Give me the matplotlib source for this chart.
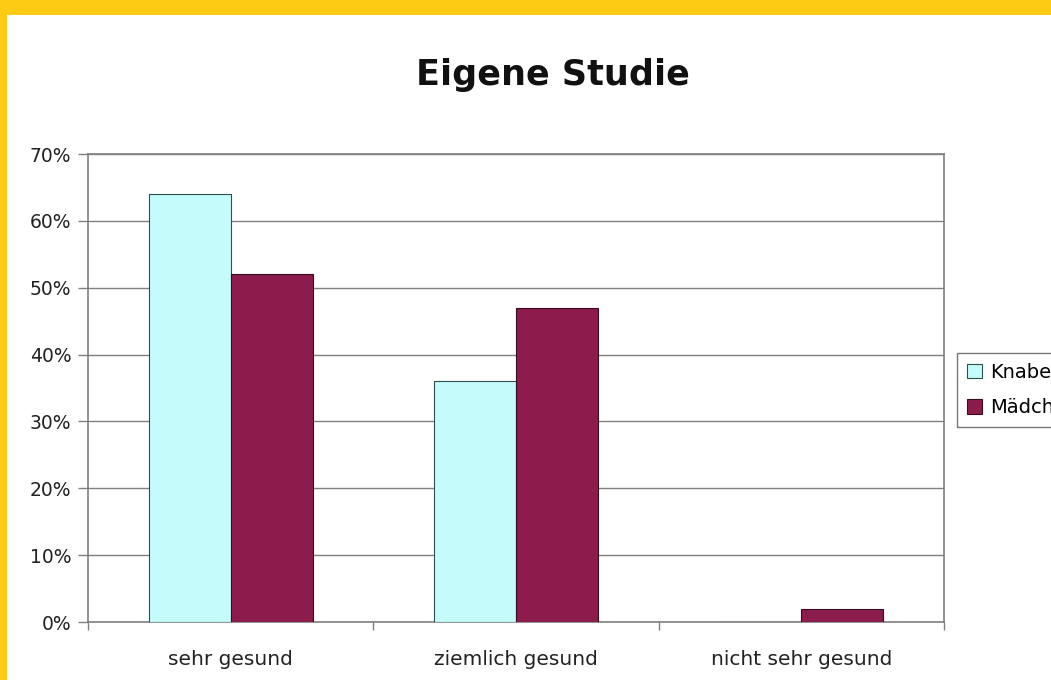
import matplotlib
matplotlib.use("Agg")
import matplotlib.pyplot as plt
from matplotlib.patches import Rectangle
from matplotlib.ticker import FuncFormatter
import numpy as np

categories = ["sehr gesund", "ziemlich gesund", "nicht sehr gesund"]
knaben = [64, 36, 0]
maedchen = [52, 47, 2]
series_names = ["Knaben", "Mädchen"]

plt.rcParams['font.family'] = ['DejaVu Sans']

fig = plt.figure(figsize=(10.51, 6.80), dpi=100)
fig.patch.set_facecolor("white")

# yellow frame (top and left)
fig.add_artist(Rectangle((0, 1 - 15/680), 1, 15/680, transform=fig.transFigure,
                         facecolor="#FDCB14", edgecolor="none", zorder=0))
fig.add_artist(Rectangle((0, 0), 7/1051, 1, transform=fig.transFigure,
                         facecolor="#FDCB14", edgecolor="none", zorder=0))

ax = fig.add_axes([88/1051, 1 - 622/680, (944-88)/1051, (622-154)/680])
x = np.arange(len(categories))
w = 0.287
ax.bar(x - w/2, knaben, w, color="#C4FCFC", edgecolor="#2F4F4F", linewidth=0.8,
       label=series_names[0], zorder=3)
ax.bar(x + w/2, maedchen, w, color="#8C1C4C", edgecolor="#3A0A1E", linewidth=0.8,
       label=series_names[1], zorder=3)

ax.set_xlim(-0.5, 2.5)
ax.set_ylim(0, 70)
ax.set_yticks(np.arange(0, 71, 10))
ax.yaxis.set_major_formatter(FuncFormatter(lambda v, p: f"{int(v)}%"))
ax.yaxis.grid(True, color="#808080", linewidth=1.0, zorder=0)
ax.set_axisbelow(True)

ax.set_xticks(x)
ax.set_xticklabels(categories, fontsize=14.5, color="#222222")
ax.tick_params(axis='x', which='major', length=0, pad=20)
ax.set_xticks([-0.5, 0.5, 1.5, 2.5], minor=True)
ax.tick_params(axis='x', which='minor', length=6, color="#808080", width=1)
ax.tick_params(axis='y', length=7, color="#808080", width=1, labelsize=13.5,
               labelcolor="#222222", pad=5)
for s in ax.spines.values():
    s.set_color("#808080")
    s.set_linewidth(1.2)

fig.text(553/1051, 1 - 75/680, "Eigene Studie", ha="center", va="center",
         fontsize=25.2, fontweight="bold", color="#111111")

leg = fig.legend(loc="upper left", bbox_to_anchor=(957/1051, 1 - 353/680),
                 fontsize=14, frameon=True, fancybox=False, edgecolor="#555555",
                 handlelength=0.8, handleheight=0.8, handletextpad=0.4,
                 borderpad=0.5, labelspacing=0.85, borderaxespad=0)
leg.get_frame().set_linewidth(1.0)

fig.savefig("out.png", dpi=100)
